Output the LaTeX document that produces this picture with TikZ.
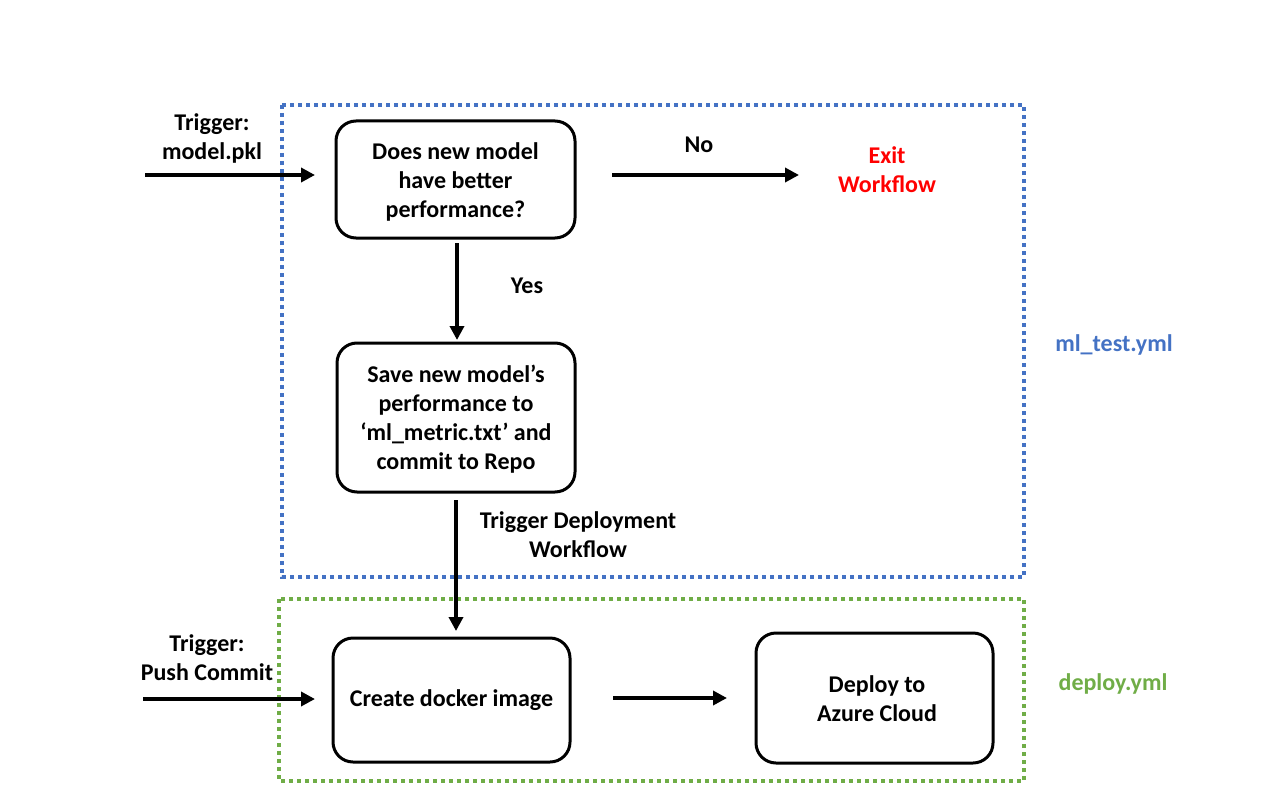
\documentclass[tikz,border=0pt]{standalone}
\usepackage{fontspec}
\setmainfont{Carlito}
\usetikzlibrary{arrows.meta}
\definecolor{mlblue}{HTML}{4472C4}
\definecolor{mlgreen}{HTML}{70AD47}
\definecolor{exitred}{HTML}{FF0000}
\begin{document}
\begin{tikzpicture}[x=0.75pt,y=-0.75pt,
  txt/.style={font=\bfseries\fontsize{18}{21.75}\selectfont, align=center, inner sep=0pt},
  stepbox/.style={draw, line width=2.25pt, rounded corners=15pt},
  conn/.style={line width=3pt, -{Triangle[length=10.5pt,width=10.5pt]}},
  dotframe/.style={line width=2.6pt, dash pattern=on 3pt off 3pt}]
\useasboundingbox (0,0) rectangle (1280,788);
% frames
\draw[dotframe, mlblue] (282,105) rectangle (1024,577);
\draw[dotframe, mlgreen] (279,599) rectangle (1024,781);
% boxes
\draw[stepbox] (336,121) rectangle (575,238);
\node[txt] (b1) at (455.5,181.5) {Does new model\\have better\\performance?};
\draw[stepbox] (337,343) rectangle (575,492);
\node[txt] (b2) at (456,419) {Save new model’s\\performance to\\‘ml\_metric.txt’ and\\commit to Repo};
\draw[stepbox] (333,638) rectangle (570,762);
\node[txt] (b3) at (451.5,700) {Create docker image};
\draw[stepbox] (756,633) rectangle (993,763);
\node[txt] (b4) at (877,698.5) {Deploy to\\Azure Cloud};
% labels
\node[txt] (t1) at (212,138) {Trigger:\\model.pkl};
\node[txt] (no) at (699,145) {No};
\node[txt, text=exitred] (exit) at (887,170) {Exit\\Workflow};
\node[txt] (yes) at (527,286) {Yes};
\node[txt, text=mlblue] (mlt) at (1114,345) {ml\_test.yml};
\node[txt] (td) at (578,535) {Trigger Deployment\\Workflow};
\node[txt] (t2) at (207,658) {Trigger:\\Push Commit};
\node[txt, text=mlgreen] (dep) at (1113,684) {deploy.yml};
% connectors
\coordinate (s1) at (145,175);
\coordinate (e1) at (315,175);
\draw[conn] (s1) -- (e1);
\coordinate (s2) at (612,175);
\coordinate (e2) at (799,175);
\draw[conn] (s2) -- (e2);
\coordinate (s3) at (457,243);
\coordinate (e3) at (457,340);
\draw[conn] (s3) -- (e3);
\coordinate (s4) at (456,500);
\coordinate (e4) at (456,631);
\draw[conn] (s4) -- (e4);
\coordinate (s5) at (143,699);
\coordinate (e5) at (315,699);
\draw[conn] (s5) -- (e5);
\coordinate (s6) at (613,698);
\coordinate (e6) at (727,698);
\draw[conn] (s6) -- (e6);
\end{tikzpicture}
\end{document}
